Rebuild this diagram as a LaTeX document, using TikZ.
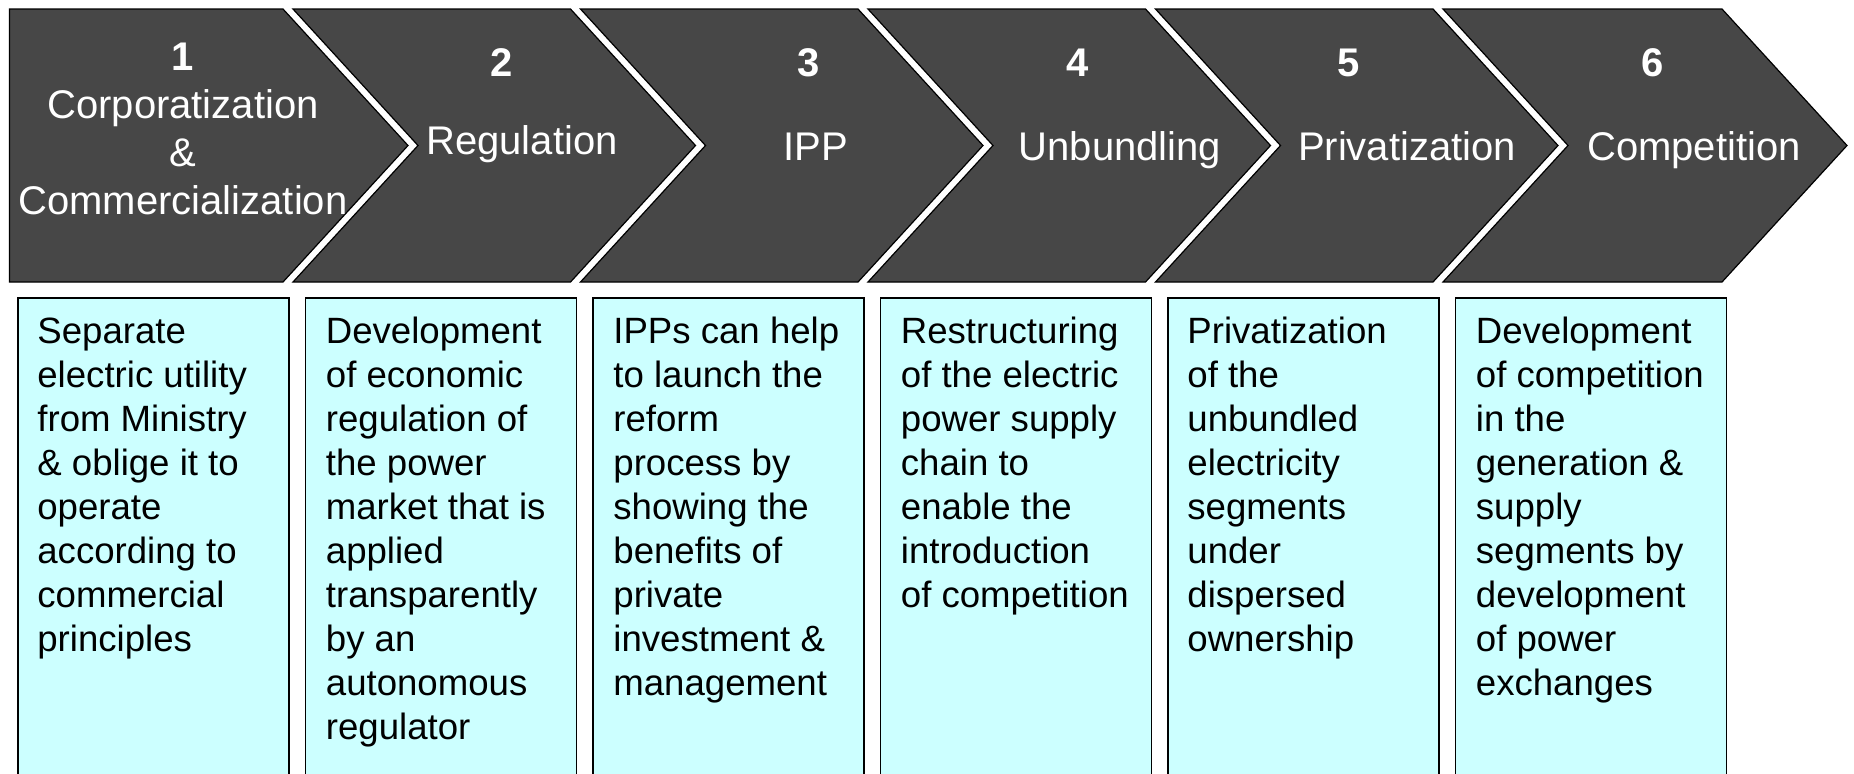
\documentclass[tikz,border=0pt]{standalone}
\usepackage{fontspec}
\setmainfont{Liberation Sans}
\usepackage{tikz}
\usetikzlibrary{calc}
\definecolor{stagegray}{HTML}{474747}
\definecolor{notecyan}{HTML}{CCFFFF}
\def\stagearrow[#1](#2:#3){\draw[#1] (#2, 9) -- (#3, 9) -- (#3+125, 145.5) -- (#3, 282) -- (#2, 282) -- (#2+125, 145.5) -- cycle;}
\tikzset{
	stagefill/.style={fill=stagegray, draw=black, line width=0.6pt},
	stagenum/.style={text=white, font=\fontsize{20}{24}\selectfont\bfseries, inner sep=0pt, anchor=base},
	stagelabel/.style={text=white, font=\fontsize{20}{24}\selectfont, inner sep=0pt, anchor=base, align=center},
	notebox/.style={fill=notecyan, draw=black, line width=0.8pt, anchor=north west, minimum width=135.5pt, minimum height=250pt, inner sep=0pt},
	notetext/.style={font=\fontsize{18.3}{22}\selectfont, inner sep=0pt, anchor=north west, align=left}
}

\begin{document}
\begin{tikzpicture}[x=0.5pt, y=-0.5pt]
			%%%%% START %%%%%
			\useasboundingbox (0, 0) rectangle (1854, 773);
			\fill[white] (0, 0) rectangle (1854, 773);
			\clip (0, 0) rectangle (1854, 773);
			
			% the six stages
			\draw[stagefill] (9.5, 9) -- (283, 9) -- (408, 145.5) -- (283, 282) -- (9.5, 282) -- cycle;
			\stagearrow[stagefill](293:570.5)
			\stagearrow[stagefill](580.5:858)
			\stagearrow[stagefill](868:1145.5)
			\stagearrow[stagefill](1155.5:1433)
			\stagearrow[stagefill](1443:1722)
			
			\node[stagenum] (num1) at (183, 70) {1};
			\node[stagelabel, anchor=north] (lab1) at (183, 84.4) {\strut Corporatization\\\&\\Commercialization};
			\node[stagenum] (num2) at (502, 76) {2};
			\node[stagelabel] (lab2) at (522, 154) {Regulation};
			\node[stagenum] (num3) at (809, 76) {3};
			\node[stagelabel] (lab3) at (816, 160) {IPP};
			\node[stagenum] (num4) at (1078, 76) {4};
			\node[stagelabel] (lab4) at (1120, 160) {Unbundling};
			\node[stagenum] (num5) at (1349, 76) {5};
			\node[stagelabel] (lab5) at (1407, 160) {Privatization};
			\node[stagenum] (num6) at (1653, 76) {6};
			\node[stagelabel] (lab6) at (1694, 160) {Competition};
			
			% the notes below
			\node[notebox] (box1) at (17, 297) {};
			\node[notebox] (box2) at (304.5, 297) {};
			\node[notebox] (box3) at (592, 297) {};
			\node[notebox] (box4) at (879.5, 297) {};
			\node[notebox] (box5) at (1167, 297) {};
			\node[notebox] (box6) at (1454.5, 297) {};
			
			\node[notetext] (note1) at ([xshift=10pt, yshift=-7.6pt]box1.north west) {\strut Separate\\electric utility\\from Ministry\\\& oblige it to\\operate\\according to\\commercial\\principles};
			\node[notetext] (note2) at ([xshift=10.5pt, yshift=-7.6pt]box2.north west) {\strut Development\\of economic\\regulation of\\the power\\market that is\\applied\\transparently\\by an\\autonomous\\regulator};
			\node[notetext] (note3) at ([xshift=10.5pt, yshift=-7.6pt]box3.north west) {\strut IPPs can help\\to launch the\\reform\\process by\\showing the\\benefits of\\private\\investment \&\\management};
			\node[notetext] (note4) at ([xshift=10.5pt, yshift=-7.6pt]box4.north west) {\strut Restructuring\\of the electric\\power supply\\chain to\\enable the\\introduction\\of competition};
			\node[notetext] (note5) at ([xshift=10pt, yshift=-7.6pt]box5.north west) {\strut Privatization\\of the\\unbundled\\electricity\\segments\\under\\dispersed\\ownership};
			\node[notetext] (note6) at ([xshift=10.5pt, yshift=-7.6pt]box6.north west) {\strut Development\\of competition\\in the\\generation \&\\supply\\segments by\\development\\of power\\exchanges};
			%%%%% END %%%%%
\end{tikzpicture}
\end{document}
